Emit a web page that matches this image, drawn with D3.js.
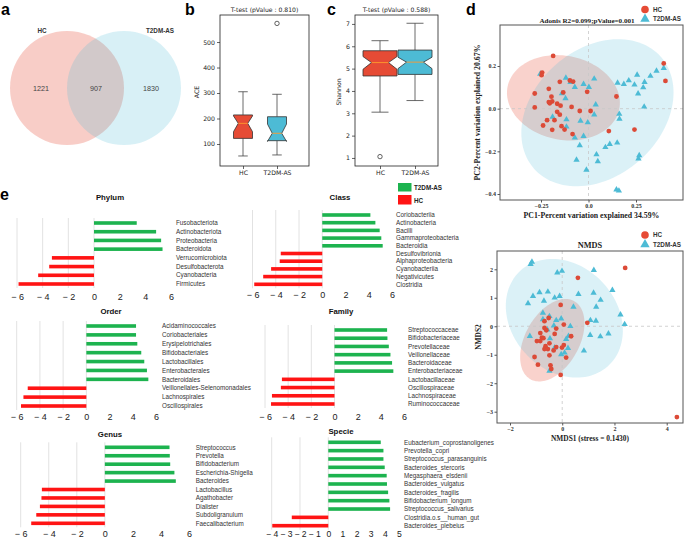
<!DOCTYPE html>
<html>
<head>
<meta charset="utf-8">
<script src="https://cdn.jsdelivr.net/npm/d3@7"></script>
<style>
  body { margin: 0; background: #fff; }
  svg { display: block; font-family: "Liberation Sans", Arial, sans-serif; }
</style>
</head>
<body>
<svg id="fig" width="685" height="540"></svg>
<script>
// ---------------- data ----------------
var vennSets = ["HC", "T2DM-AS"];
var vennCounts = [1221, 907, 1830];   // HC only, shared, T2DM-AS only

var boxGroups = ["HC", "T2DM-AS"];
// [whiskerLo, q1, notchLo, median, notchHi, q3, whiskerHi]
var aceStats = [[53, 122, 148, 181, 210, 214, 305], [57, 113, 110, 142, 178, 207, 295]];
var aceOutliers = [[], [573]];
var shannonStats = [[3.05, 4.67, 4.97, 5.27, 5.54, 5.80, 6.25], [3.57, 4.74, 5.00, 5.29, 5.51, 5.83, 7.03]];
var shannonOutliers = [[1.06], []];
var ttestP = ["0.810", "0.588"];

// PCoA coordinates (PC1, PC2)
var pcoaHC = [[-0.186,0.247],[0.396,0.212],[-0.244,0.169],[-0.247,0.157],[0.405,0.130],[-0.151,0.126],
  [-0.098,0.132],[-0.081,0.127],[-0.209,0.093],[-0.007,0.079],[-0.133,0.076],[-0.283,0.071],[-0.195,0.056],
  [0.147,0.057],[-0.191,0.034],[-0.209,0.031],[-0.204,0.025],[-0.165,0.023],[-0.283,0.006],[-0.089,0.008],
  [-0.147,0.014],[-0.046,-0.011],[0.011,-0.011],[-0.165,-0.015],[-0.151,-0.028],[-0.218,-0.054],
  [-0.179,-0.054],[-0.239,-0.079],[-0.142,-0.082],[-0.126,-0.098],[-0.191,-0.099],[0.242,-0.098],
  [-0.084,-0.119],[0.107,-0.105]];
var pcoaT2DM = [[-0.254,0.163],[0.396,0.190],[0.358,0.177],[0.326,0.153],[0.256,0.158],[0.295,0.124],
  [0.212,0.132],[0.242,0.112],[0.186,0.115],[0.153,0.121],[0.288,0.099],[0.261,0.070],[0.293,0.009],
  [-0.119,0.144],[-0.095,0.124],[-0.072,0.101],[-0.026,0.115],[0.002,0.101],[0.030,0.140],[-0.140,0.071],
  [-0.121,0.048],[0.038,0.019],[-0.189,-0.039],[-0.116,-0.051],[0.030,-0.028],[0.162,-0.025],[0.163,-0.048],
  [-0.042,-0.057],[-0.004,-0.065],[-0.116,-0.085],[-0.026,-0.129],[-0.072,-0.136],[-0.046,-0.172],
  [0.151,-0.160],[0.112,-0.166],[0.089,-0.181],[0.042,-0.215],[0.267,-0.219],[0.263,-0.234],[0.049,-0.247],
  [-0.063,-0.240],[-0.011,-0.287],[0.147,-0.380],[0.160,-0.385]];
// 95% ellipses: [cx, cy, ax, ay, bx, by] (centre + two conjugate semi-axes, data units)
var pcoaEllipseHC = [-0.132, 0.051, 0.295, 0, -0.035, 0.2];
var pcoaEllipseT2DM = [0.047, -0.019, 0.40, 0.112, -0.021, 0.326];

// NMDS coordinates
var nmdsHC = [[2.41,2.05],[0.60,1.70],[-0.06,0.75],[0.96,0.12],[0.06,0.06],[-0.52,0.29],[-0.68,0.18],
  [-0.68,-0.06],[-0.61,-0.14],[-0.23,-0.08],[-0.84,-0.24],[-0.29,-0.27],[0.34,-0.35],[-0.78,-0.40],
  [-0.72,-0.42],[-0.97,-0.52],[-0.84,-0.52],[-0.49,-0.60],[-0.64,-0.70],[-0.68,-0.80],[-0.55,-0.80],
  [-0.23,-0.73],[-0.01,-0.75],[0.06,-0.66],[-0.33,-0.85],[-0.49,-1.02],[-1.06,-1.08],[0.15,-1.10],
  [-0.93,-1.35],[-0.45,-1.37],[-0.42,-1.50],[-0.06,-1.71],[4.39,-3.19]];
var nmdsT2DM = [[-1.16,2.26],[-1.21,2.18],[-0.19,1.88],[-0.01,1.94],[1.21,1.97],[-1.31,0.80],[-1.12,1.06],
  [-0.87,1.19],[-0.55,1.21],[-0.70,0.89],[-0.29,1.00],[-0.10,1.06],[0.62,1.13],[1.20,1.17],[1.92,1.27],
  [1.47,0.92],[1.30,0.68],[0.43,0.68],[-0.74,0.47],[-0.49,0.35],[-0.74,0.24],[-0.23,0.21],[-0.04,0.27],
  [-0.32,0.02],[-0.57,-0.12],[0.31,0.00],[1.08,0.21],[1.29,0.19],[2.23,0.41],[2.39,0.07],[-1.24,-0.35],
  [-0.47,-0.43],[0.24,-0.35],[0.15,-0.45],[1.07,-0.31],[1.46,-0.36],[1.77,-0.26],[-0.29,-0.75],
  [0.22,-0.77],[0.83,-0.86],[0.09,-0.93],[-0.04,-0.99],[-0.49,-1.57]];
var nmdsEllipseHC = [-0.38, -0.49, 0.84, 1.37, 0.90, -0.47];
var nmdsEllipseT2DM = [0.08, 0.28, 2.23, -0.23, -0.22, 2.07];

// LEfSe-like LDA scores (positive = T2DM-AS, negative = HC)
var phylumNames = ["Fusobacteriota","Actinobacteriota","Proteobacteria","Bacteroidota","Verrucomicrobiota",
  "Desulfobacterota","Cyanobacteria","Firmicutes"];
var phylumValues = [3.33, 4.84, 5.23, 5.34, -3.28, -3.49, -4.35, -5.88];
var classNames = ["Coriobacteriia","Actinobacteria","Bacilli","Gammaproteobacteria","Bacteroidia",
  "Desulfovibrionia","Alphaproteobacteria","Cyanobacteriia","Negativicutes","Clostridia"];
var classValues = [4.14, 4.57, 4.94, 5.08, 5.20, -3.57, -3.66, -4.40, -5.08, -5.85];
var orderNames = ["Acidaminococcales","Coriobacteriales","Erysipelotrichales","Bifidobacteriales",
  "Lactobacillales","Enterobacterales","Bacteroidales","Veillonellales-Selenomonadales","Lachnospirales",
  "Oscillospirales"];
var orderValues = [4.28, 4.28, 4.39, 4.73, 4.99, 5.22, 5.34, -5.05, -5.42, -5.63];
var familyNames = ["Streptococcaceae","Bifidobacteriaceae","Prevotellaceae","Veillonellaceae",
  "Bacteroidaceae","Enterobacteriaceae","Lactobacillaceae","Oscillospiraceae","Lachnospiraceae",
  "Ruminococcaceae"];
var familyValues = [4.54, 4.57, 4.69, 4.83, 4.97, 5.08, -4.54, -4.63, -5.40, -5.48];
var genusNames = ["Streptococcus","Prevotella","Bifidobacterium","Escherichia-Shigella","Bacteroides",
  "Lactobacillus","Agathobacter","Dialister","Subdoligranulum","Faecalibacterium"];
var genusValues = [4.61, 4.63, 4.66, 4.96, 5.06, -4.49, -4.52, -4.63, -4.89, -5.25];
var specieNames = ["Eubacterium_coprostanoligenes","Prevotella_copri","Streptococcus_parasanguinis",
  "Bacteroides_stercoris","Megasphaera_elsdenii","Bacteroides_vulgatus","Bacteroides_fragilis",
  "Bifidobacterium_longum","Streptococcus_salivarius","Clostridia.o.s__human_gut","Bacteroides_plebeius"];
var specieValues = [3.71, 3.90, 3.90, 3.99, 4.13, 4.15, 4.23, 4.32, 4.37, -2.58, -3.96];

// ---------------- drawing ----------------
var svg = d3.select("#fig");
var RED = "#e64b35", BLUE = "#4dbbd5";
var SERIF = "'Liberation Serif', 'Times New Roman', serif";
var MPL = "'DejaVu Sans', sans-serif";

function panelLabel(t, x, y) {
  svg.append("text").attr("x", x).attr("y", y).attr("font-size", 16).attr("font-weight", "bold").text(t);
}
panelLabel("a", 1, 15);
panelLabel("b", 185, 15);
panelLabel("c", 327, 15);
panelLabel("d", 466, 15);
panelLabel("e", 0, 200);

// ---- a: Venn
var venn = svg.append("g");
venn.append("circle").attr("cx", 67).attr("cy", 88).attr("r", 57)
  .attr("fill", RED).attr("fill-opacity", 0.28);
venn.append("circle").attr("cx", 124).attr("cy", 88).attr("r", 57)
  .attr("fill", BLUE).attr("fill-opacity", 0.22);
venn.selectAll(".setlab").data(vennSets).enter().append("text")
  .attr("x", function(d, i) { return i ? 160 : 42; })
  .attr("y", 33)
  .attr("text-anchor", "middle").attr("font-size", 6.3).attr("font-weight", "bold").attr("fill", "#333")
  .text(function(d) { return d; });
venn.selectAll(".count").data(vennCounts).enter().append("text")
  .attr("x", function(d, i) { return [41, 96, 151][i]; })
  .attr("y", 90.5)
  .attr("text-anchor", "middle").attr("font-size", 7.2).attr("fill", "#444")
  .text(function(d) { return d; });

// ---- b, c: notched box plots
function boxPanel(cfg, stats, outliers, p) {
  var g = svg.append("g").attr("font-family", MPL);
  var x = d3.scalePoint().domain(boxGroups).range(cfg.xr);
  var y = d3.scaleLinear().domain(cfg.dom).range([166, 15]);

  g.append("rect").attr("x", cfg.fx).attr("y", 15).attr("width", cfg.fw).attr("height", 151)
    .attr("fill", "none").attr("stroke", "#222").attr("stroke-width", 0.8);

  var ya = g.append("g").attr("transform", "translate(" + cfg.fx + ",0)")
    .call(d3.axisLeft(y).tickValues(cfg.ticks).tickSize(3).tickPadding(2).tickFormat(d3.format("d")));
  var xa = g.append("g").attr("transform", "translate(0,166)")
    .call(d3.axisBottom(x).tickSize(3).tickPadding(2));
  [ya, xa].forEach(function(a) {
    a.select(".domain").remove();
    a.selectAll("text").attr("font-size", 6.2).attr("font-family", MPL).attr("fill", "#222");
    a.selectAll("line").attr("stroke", "#222").attr("stroke-width", 0.7);
  });

  g.append("text").attr("x", cfg.fx + cfg.fw / 2).attr("y", 12).attr("text-anchor", "middle")
    .attr("font-size", 6.1).attr("fill", "#222").text("T-test (pValue : " + p + ")");
  g.append("text").attr("transform", "translate(" + cfg.lx + ",92) rotate(-90)")
    .attr("text-anchor", "middle").attr("font-size", 6.2).attr("fill", "#222").text(cfg.ylab);

  stats.forEach(function(s, i) {
    var cx = x(boxGroups[i]), hw = cfg.bw / 2, nw = hw / 2;
    var col = i ? BLUE : RED;
    // whiskers and caps
    [[s[1], s[0]], [s[5], s[6]]].forEach(function(w) {
      g.append("line").attr("x1", cx).attr("x2", cx).attr("y1", y(w[0])).attr("y2", y(w[1]))
        .attr("stroke", "#444").attr("stroke-width", 0.8);
      g.append("line").attr("x1", cx - nw).attr("x2", cx + nw).attr("y1", y(w[1])).attr("y2", y(w[1]))
        .attr("stroke", "#444").attr("stroke-width", 0.8);
    });
    var pts = [[cx - hw, s[1]], [cx + hw, s[1]], [cx + hw, s[2]], [cx + nw, s[3]], [cx + hw, s[4]],
      [cx + hw, s[5]], [cx - hw, s[5]], [cx - hw, s[4]], [cx - nw, s[3]], [cx - hw, s[2]]];
    g.append("polygon")
      .attr("points", pts.map(function(q) { return q[0] + "," + y(q[1]); }).join(" "))
      .attr("fill", col).attr("stroke", "#333").attr("stroke-width", 0.8);
    g.append("line").attr("x1", cx - nw).attr("x2", cx + nw).attr("y1", y(s[3])).attr("y2", y(s[3]))
      .attr("stroke", "#ff9a2e").attr("stroke-width", 0.9);
    outliers[i].forEach(function(o) {
      g.append("circle").attr("cx", cx).attr("cy", y(o)).attr("r", 2.2)
        .attr("fill", "none").attr("stroke", "#222").attr("stroke-width", 0.7);
    });
  });
}
boxPanel({fx: 220, fw: 89, xr: [243, 277], dom: [13.7, 606], ticks: [100, 200, 300, 400, 500],
  bw: 19, lx: 199, ylab: "ACE"}, aceStats, aceOutliers, ttestP[0]);
boxPanel({fx: 355, fw: 83, xr: [380, 415], dom: [0.64, 7.4], ticks: [1, 2, 3, 4, 5, 6, 7],
  bw: 34, lx: 341, ylab: "Shannon"}, shannonStats, shannonOutliers, ttestP[1]);

// ---- d: ordination scatter panels
function ellipsePath(e, x, y) {
  var pts = d3.range(0, 2 * Math.PI, Math.PI / 60).map(function(t) {
    return [x(e[0] + e[2] * Math.cos(t) + e[4] * Math.sin(t)), y(e[1] + e[3] * Math.cos(t) + e[5] * Math.sin(t))];
  });
  return d3.line().curve(d3.curveLinearClosed)(pts);
}

function scatterPanel(cfg) {
  var g = svg.append("g").attr("font-family", SERIF);
  var x = d3.scaleLinear().domain(cfg.xd).range(cfg.xr);
  var y = d3.scaleLinear().domain(cfg.yd).range(cfg.yr);
  var f = cfg.frame;

  g.append("path").attr("d", ellipsePath(cfg.ellHC, x, y)).attr("fill", RED).attr("fill-opacity", 0.25);
  g.append("path").attr("d", ellipsePath(cfg.ellT2DM, x, y)).attr("fill", BLUE).attr("fill-opacity", 0.2);

  g.append("line").attr("x1", x(0)).attr("x2", x(0)).attr("y1", f[1]).attr("y2", f[3])
    .attr("stroke", "#c8c8c8").attr("stroke-dasharray", "3,3").attr("stroke-width", 0.8);
  g.append("line").attr("x1", f[0]).attr("x2", f[2]).attr("y1", y(0)).attr("y2", y(0))
    .attr("stroke", "#c8c8c8").attr("stroke-dasharray", "3,3").attr("stroke-width", 0.8);

  g.selectAll(".tri").data(cfg.t2dm).enter().append("path")
    .attr("transform", function(d) { return "translate(" + x(d[0]) + "," + y(d[1]) + ")"; })
    .attr("d", d3.symbol().type(d3.symbolTriangle).size(17)).attr("fill", BLUE);
  g.selectAll(".dot").data(cfg.hc).enter().append("circle")
    .attr("cx", function(d) { return x(d[0]); }).attr("cy", function(d) { return y(d[1]); })
    .attr("r", 2.4).attr("fill", "#dc4a37");

  g.append("rect").attr("x", f[0]).attr("y", f[1]).attr("width", f[2] - f[0]).attr("height", f[3] - f[1])
    .attr("fill", "none").attr("stroke", "#555").attr("stroke-width", 1);

  var xa = g.append("g").attr("transform", "translate(0," + f[3] + ")")
    .call(d3.axisBottom(x).tickValues(cfg.xt).tickSize(2.5).tickPadding(1.5).tickFormat(cfg.fmt));
  var ya = g.append("g").attr("transform", "translate(" + f[0] + ",0)")
    .call(d3.axisLeft(y).tickValues(cfg.yt).tickSize(2.5).tickPadding(1.5).tickFormat(cfg.fmtY));
  [xa, ya].forEach(function(a) {
    a.select(".domain").remove();
    a.selectAll("text").attr("font-size", 6).attr("font-weight", "bold").attr("font-family", SERIF).attr("fill", "#333");
    a.selectAll("line").attr("stroke", "#555");
  });

  g.append("text").attr("x", (f[0] + f[2]) / 2).attr("y", cfg.xly).attr("text-anchor", "middle")
    .attr("font-size", cfg.xls).attr("font-weight", "bold").attr("fill", "#222").text(cfg.xlab);
  g.append("text").attr("transform", "translate(" + cfg.ylx + "," + (f[1] + f[3]) / 2 + ") rotate(-90)")
    .attr("text-anchor", "middle").attr("font-size", cfg.xls).attr("font-weight", "bold").attr("fill", "#222")
    .text(cfg.ylab);
  g.append("text").attr("x", cfg.tx).attr("y", cfg.ty).attr("text-anchor", "middle")
    .attr("font-size", cfg.ts).attr("font-weight", "bold").attr("fill", "#222").text(cfg.title);

  // legend
  var lg = svg.append("g").attr("transform", "translate(645," + cfg.legY + ")");
  lg.append("circle").attr("cx", 0).attr("cy", 0).attr("r", 3.8).attr("fill", RED);
  lg.append("path").attr("transform", "translate(0,9.5)")
    .attr("d", d3.symbol().type(d3.symbolTriangle).size(38)).attr("fill", BLUE);
  lg.selectAll("text").data(boxGroups).enter().append("text")
    .attr("x", 8).attr("y", function(d, i) { return i * 9.5 + 2.3; })
    .attr("font-size", 6.3).attr("font-weight", "bold").attr("fill", "#333").text(function(d) { return d; });
}

function dec(d) { return d3.format(".1f")(d).replace("-", "\u2212"); }
scatterPanel({
  xd: [-0.25, 0.25], xr: [541, 636], yd: [-0.4, 0.2], yr: [194, 66], frame: [500, 25, 683, 200],
  xt: [-0.25, 0, 0.25], yt: [-0.4, -0.2, 0, 0.2],
  fmt: function(d) { return d === 0 ? "0.0" : d3.format(".2f")(d).replace("-", "\u2212 "); },
  fmtY: dec,
  hc: pcoaHC, t2dm: pcoaT2DM, ellHC: pcoaEllipseHC, ellT2DM: pcoaEllipseT2DM,
  xlab: "PC1-Percent variation explained 34.59%", ylab: "PC2-Percent variation explained 20.67%",
  xly: 218, ylx: 480, xls: 7.8,
  title: "Adonis R2=0.099;pValue=0.001", tx: 587, ty: 23, ts: 7.1, legY: 9.5
});
scatterPanel({
  xd: [-2, 4], xr: [510, 666.7], yd: [-3, 2], yr: [411.7, 269.3], frame: [497, 251, 683, 423],
  xt: [-2, 0, 2, 4], yt: [-3, -2, -1, 0, 1, 2],
  fmt: function(d) { return String(d).replace("-", "\u2212"); },
  fmtY: function(d) { return String(d).replace("-", "\u2212"); },
  hc: nmdsHC, t2dm: nmdsT2DM, ellHC: nmdsEllipseHC, ellT2DM: nmdsEllipseT2DM,
  xlab: "NMDS1 (stress = 0.1430)", ylab: "NMDS2",
  xly: 440.5, ylx: 481, xls: 7.4,
  title: "NMDS", tx: 590, ty: 248, ts: 8.3, legY: 235
});

// ---- e: diverging bar panels
var GREEN = "#1db34f", BARRED = "#ff1414";
function tickFmt(d) { return d < 0 ? "\u2212 " + (-d) : String(d); }

function barPanel(cfg, names, values) {
  var g = svg.append("g");
  var x = d3.scaleLinear().domain(cfg.xd).range(cfg.xr);
  var y = d3.scalePoint().domain(names).range(cfg.yr);

  g.selectAll(".grid").data(cfg.grid).enter().append("line")
    .attr("x1", function(d) { return x(d); }).attr("x2", function(d) { return x(d); })
    .attr("y1", cfg.yr[0] - 5).attr("y2", cfg.yr[1] + 4)
    .attr("stroke", "#e2e2e2").attr("stroke-width", 1);

  g.selectAll(".bar").data(names).enter().append("rect")
    .attr("x", function(d, i) { return Math.min(x(0), x(values[i])); })
    .attr("y", function(d) { return y(d) - 1.8; })
    .attr("width", function(d, i) { return Math.abs(x(values[i]) - x(0)); })
    .attr("height", 3.6)
    .attr("fill", function(d, i) { return values[i] > 0 ? GREEN : BARRED; });

  g.selectAll(".lab").data(names).enter().append("text")
    .attr("x", cfg.lx).attr("y", function(d) { return y(d); }).attr("dy", "0.35em")
    .attr("font-size", 6.3).attr("fill", "#333").text(function(d) { return d; });

  var ax = g.append("g").attr("transform", "translate(0," + cfg.ty + ")")
    .call(d3.axisBottom(x).tickValues(cfg.ticks).tickSize(0).tickFormat(tickFmt));
  ax.select(".domain").remove();
  ax.selectAll("text").attr("y", 0).attr("dy", "0.35em").attr("font-size", cfg.tfs || 9)
    .attr("font-family", "'Liberation Sans', Arial, sans-serif").attr("fill", "#222");

  g.append("text").attr("x", cfg.tx).attr("y", cfg.tty).attr("text-anchor", "middle")
    .attr("font-size", 7.8).attr("font-weight", "bold").attr("fill", "#111").text(cfg.title);
}

var evenTicks = [-6, -4, -2, 0, 2, 4, 6];
barPanel({title: "Phylum", tx: 110, tty: 200, xd: [-6, 6], xr: [17, 171], yr: [223, 284], lx: 176,
  ty: 297, ticks: evenTicks, grid: [-6, -4, -2, 0]}, phylumNames, phylumValues);
barPanel({title: "Class", tx: 340, tty: 200, xd: [-6, 6], xr: [252.5, 392], yr: [215, 284.3], lx: 396,
  ty: 295, ticks: evenTicks, grid: [-6, -4, -2, 0]}, classNames, classValues);
barPanel({title: "Order", tx: 111, tty: 314, xd: [-6, 6], xr: [16.7, 156], yr: [326, 406], lx: 162,
  ty: 417, ticks: evenTicks, grid: [-6, -4, -2, 0]}, orderNames, orderValues);
barPanel({title: "Family", tx: 341, tty: 314, xd: [-6, 6], xr: [265, 404], yr: [330, 404], lx: 408,
  ty: 417, ticks: evenTicks, grid: [-6, -4, -2, 0]}, familyNames, familyValues);
barPanel({title: "Genus", tx: 110, tty: 437, xd: [-6, 6], xr: [20.7, 189], yr: [447.3, 523.3], lx: 195.7,
  ty: 533.5, ticks: evenTicks, grid: [-6, -4, -2, 0]}, genusNames, genusValues);
barPanel({title: "Specie", tx: 341, tty: 434, xd: [-4, 5], xr: [271.7, 399], yr: [442.3, 525.7], lx: 404,
  ty: 533.5, tfs: 8.6, ticks: d3.range(-4, 6), grid: [-4, -2, 0]}, specieNames, specieValues);

// legend for e
var eleg = svg.append("g").attr("transform", "translate(398,183)");
eleg.append("rect").attr("width", 13.5).attr("height", 8.5).attr("fill", GREEN);
eleg.append("rect").attr("y", 12).attr("width", 13.5).attr("height", 9.5).attr("fill", BARRED);
eleg.selectAll("text").data(["T2DM-AS", "HC"]).enter().append("text")
  .attr("x", 16).attr("y", function(d, i) { return i ? 19.5 : 7; })
  .attr("font-size", 6.3).attr("font-weight", "bold").attr("fill", "#222").text(function(d) { return d; });
</script>
</body>
</html>
